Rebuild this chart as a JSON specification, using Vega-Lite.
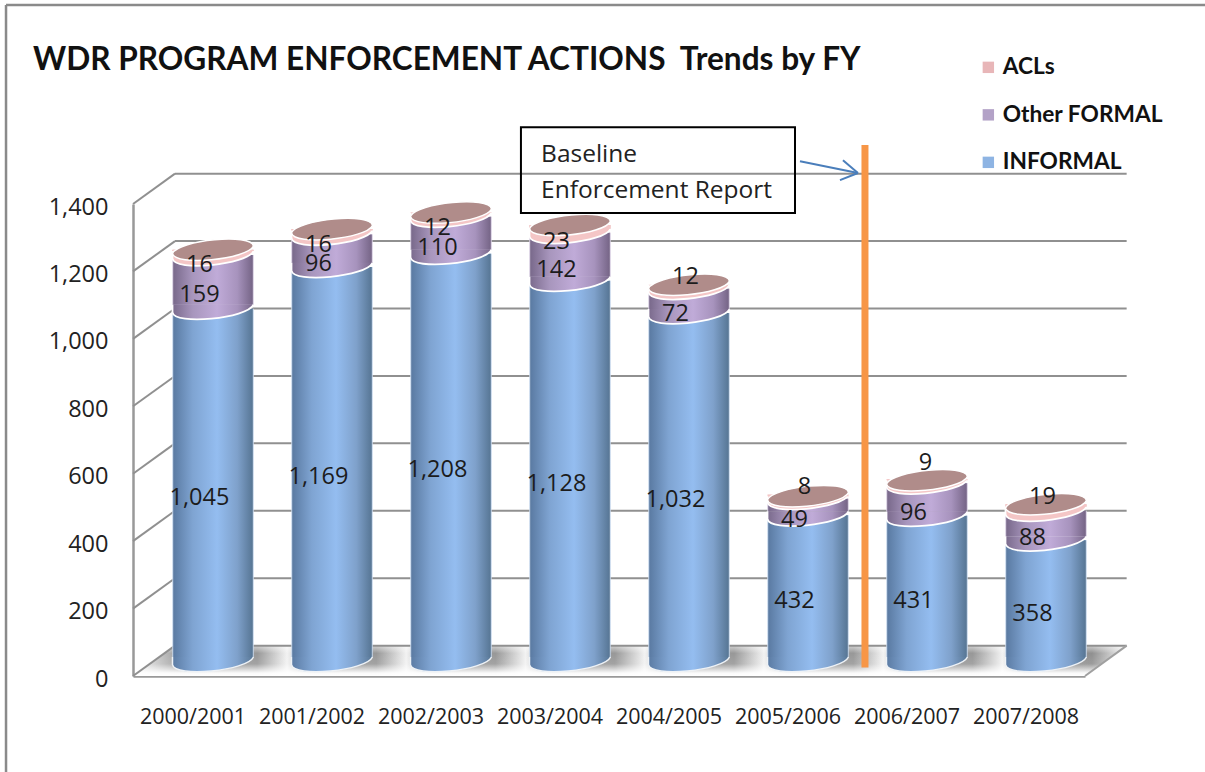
{
"$schema":"https://vega.github.io/schema/vega-lite/v6.json",
"width":952,"height":472,
"autosize":{"type":"none"},
"padding":{"left":133,"top":204,"right":120,"bottom":96},
"background":"#ffffff",
"config":{"view":{"stroke":null},"font":"Open Sans"},
"title":{"text":"WDR PROGRAM ENFORCEMENT ACTIONS\u00a0\u00a0Trends by FY","anchor":"start","frame":"group","dx":-100,"offset":-73,"font":"Lato","fontWeight":"bold","fontSize":31.6,"color":"#111111"},
"datasets":{
"walls":[{"v":0,"b":90},{"v":200,"b":290},{"v":400,"b":490},{"v":600,"b":690},{"v":800,"b":890},{"v":1000,"b":1090},{"v":1200,"b":1290},{"v":1400,"b":1490}],
"floor":[{"fx":-0.5,"lo":0,"hi":0},{"fx":-0.147,"lo":0,"hi":90},{"fx":7.5,"lo":0,"hi":90},{"fx":7.85,"lo":90,"hi":90}],
"frame":[{"x1":-1.567,"x2":8.51,"y1":1990,"y2":1990},{"x1":-1.567,"x2":-1.567,"y1":1990,"y2":-285}],
"arrow":[{"x1":5.105,"x2":5.592,"y1":1527,"y2":1492},{"x1":5.466,"x2":5.592,"y1":1530,"y2":1492},{"x1":5.441,"x2":5.592,"y1":1471,"y2":1492}],
"note":[{"t":"Baseline","nx":2.929,"ny":1545},{"t":"Enforcement Report","nx":2.929,"ny":1438}]
},
"data":{"values":[
{"fy":"2000/2001","i":0,"series":"INFORMAL","o":1,"v":1045},{"fy":"2000/2001","i":0,"series":"Other FORMAL","o":2,"v":159},{"fy":"2000/2001","i":0,"series":"ACLs","o":3,"v":16},
{"fy":"2001/2002","i":1,"series":"INFORMAL","o":1,"v":1169},{"fy":"2001/2002","i":1,"series":"Other FORMAL","o":2,"v":96},{"fy":"2001/2002","i":1,"series":"ACLs","o":3,"v":16},
{"fy":"2002/2003","i":2,"series":"INFORMAL","o":1,"v":1208},{"fy":"2002/2003","i":2,"series":"Other FORMAL","o":2,"v":110},{"fy":"2002/2003","i":2,"series":"ACLs","o":3,"v":12},
{"fy":"2003/2004","i":3,"series":"INFORMAL","o":1,"v":1128},{"fy":"2003/2004","i":3,"series":"Other FORMAL","o":2,"v":142},{"fy":"2003/2004","i":3,"series":"ACLs","o":3,"v":23},
{"fy":"2004/2005","i":4,"series":"INFORMAL","o":1,"v":1032},{"fy":"2004/2005","i":4,"series":"Other FORMAL","o":2,"v":72},{"fy":"2004/2005","i":4,"series":"ACLs","o":3,"v":12},
{"fy":"2005/2006","i":5,"series":"INFORMAL","o":1,"v":432},{"fy":"2005/2006","i":5,"series":"Other FORMAL","o":2,"v":49},{"fy":"2005/2006","i":5,"series":"ACLs","o":3,"v":8},
{"fy":"2006/2007","i":6,"series":"INFORMAL","o":1,"v":431},{"fy":"2006/2007","i":6,"series":"Other FORMAL","o":2,"v":96},{"fy":"2006/2007","i":6,"series":"ACLs","o":3,"v":9},
{"fy":"2007/2008","i":7,"series":"INFORMAL","o":1,"v":358},{"fy":"2007/2008","i":7,"series":"Other FORMAL","o":2,"v":88},{"fy":"2007/2008","i":7,"series":"ACLs","o":3,"v":19}
]},
"transform":[{"stack":"v","groupby":["fy"],"sort":[{"field":"o","order":"ascending"}],"as":["s0","s1"]},{"calculate":"(datum.s0+datum.s1)/2","as":"mid"}],
"layer":[
{"data":{"name":"frame"},"mark":{"type":"rule","color":"#8a8a8a","strokeWidth":2.5,"clip":false},
 "encoding":{"x":{"field":"x1","type":"quantitative","scale":{"domain":[-0.5,7.5],"nice":false,"zero":false,"padding":0},
   "axis":{"values":[0,1,2,3,4,5,6,7],"labelExpr":"['2000/2001','2001/2002','2002/2003','2003/2004','2004/2005','2005/2006','2006/2007','2007/2008'][datum.value]","title":null,"grid":false,"ticks":false,"domainColor":"#999999","domainWidth":2.5,"labelFont":"Open Sans","labelFontSize":21.5,"labelColor":"#222222","labelPadding":30,"labelFlush":false,"labelOverlap":false}},
  "x2":{"field":"x2"},
  "y":{"field":"y1","type":"quantitative","scale":{"domain":[0,1400],"nice":false},
   "axis":{"values":[0,200,400,600,800,1000,1200,1400],"format":",d","title":null,"grid":false,"ticks":false,"domainColor":"#999999","domainWidth":2.5,"labelFont":"Open Sans","labelFontSize":23.5,"labelColor":"#222222","labelPadding":25,"labelOffset":3}},
  "y2":{"field":"y2"}}},
{"data":{"name":"floor"},"mark":{"type":"area","clip":false,"fill":{"gradient":"linear","x1":0,"x2":1,"y1":0,"y2":0,"stops":[{"offset":0,"color":"#f8f8f8"},{"offset":0.045,"color":"#a0a0a0"},{"offset":0.125,"color":"#989898"},{"offset":0.155,"color":"#f2f2f2"},{"offset":0.18,"color":"#a0a0a0"},{"offset":0.245,"color":"#989898"},{"offset":0.275,"color":"#f2f2f2"},{"offset":0.3,"color":"#a0a0a0"},{"offset":0.365,"color":"#989898"},{"offset":0.395,"color":"#f2f2f2"},{"offset":0.42,"color":"#a0a0a0"},{"offset":0.485,"color":"#989898"},{"offset":0.515,"color":"#f2f2f2"},{"offset":0.54,"color":"#a0a0a0"},{"offset":0.605,"color":"#989898"},{"offset":0.635,"color":"#f2f2f2"},{"offset":0.66,"color":"#a0a0a0"},{"offset":0.725,"color":"#989898"},{"offset":0.755,"color":"#f2f2f2"},{"offset":0.78,"color":"#a0a0a0"},{"offset":0.845,"color":"#989898"},{"offset":0.875,"color":"#f2f2f2"},{"offset":0.9,"color":"#a0a0a0"},{"offset":0.965,"color":"#909090"},{"offset":1,"color":"#f8f8f8"}]}},
 "encoding":{"x":{"field":"fx","type":"quantitative"},"y":{"field":"lo","type":"quantitative"},"y2":{"field":"hi"}}},
{"data":{"name":"floor"},"mark":{"type":"area","clip":false,"fill":{"gradient":"linear","x1":0,"x2":0,"y1":0,"y2":1,"stops":[{"offset":0,"color":"rgba(255,255,255,0.55)"},{"offset":0.25,"color":"rgba(255,255,255,0)"},{"offset":0.6,"color":"rgba(255,255,255,0.1)"},{"offset":0.9,"color":"rgba(255,255,255,0.95)"},{"offset":1,"color":"rgba(255,255,255,1)"}]}},
 "encoding":{"x":{"field":"fx","type":"quantitative"},"y":{"field":"lo","type":"quantitative"},"y2":{"field":"hi"}}},
{"data":{"name":"walls"},"mark":{"type":"rule","color":"#909090","strokeWidth":2,"clip":false},
 "transform":[{"calculate":"-0.147","as":"wx"},{"calculate":"7.85","as":"ex"}],
 "encoding":{"x":{"field":"wx","type":"quantitative"},"x2":{"field":"ex"},"y":{"field":"b","type":"quantitative"}}},
{"data":{"name":"walls"},"mark":{"type":"rule","color":"#909090","strokeWidth":2,"clip":false},
 "transform":[{"calculate":"-0.5","as":"wx"},{"calculate":"-0.147","as":"ex"}],
 "encoding":{"x":{"field":"wx","type":"quantitative"},"x2":{"field":"ex"},"y":{"field":"v","type":"quantitative"},"y2":{"field":"b"}}},
{"data":{"values":[{"a":7.5,"c":7.85,"p":0,"q":90}]},"mark":{"type":"rule","color":"#a0a0a0","strokeWidth":2,"clip":false},
 "encoding":{"x":{"field":"a","type":"quantitative"},"x2":{"field":"c"},"y":{"field":"p","type":"quantitative"},"y2":{"field":"q"}}},
{"mark":{"type":"bar","width":81,"xOffset":20.5,"yOffset":-15,"y2Offset":-19,"clip":false},
 "encoding":{"x":{"field":"i","type":"quantitative"},"y":{"field":"s1","type":"quantitative"},"y2":{"field":"s0"},
  "color":{"field":"series","type":"nominal","scale":{"domain":["ACLs","Other FORMAL","INFORMAL"],"range":["#e8b6b8","#b3a2c7","#8eb4e3"]},
   "sort":["ACLs","Other FORMAL","INFORMAL"],
   "legend":{"orient":"none","legendX":844,"legendY":-148,"title":null,"symbolType":"square","symbolSize":130,"symbolOpacity":1,"symbolStrokeWidth":0,"labelFont":"Lato","labelFontWeight":"bold","labelFontSize":22.7,"labelColor":"#111111","labelOffset":3,"labelLimit":400,"rowPadding":23.5}}}},
{"transform":[{"filter":"datum.series==='INFORMAL'"}],"mark":{"type":"bar","width":81,"xOffset":20.5,"yOffset":-15,"y2Offset":-19,"clip":false,"fill":{"gradient":"linear","x1":0,"x2":1,"y1":0,"y2":0,"stops":[{"offset":0,"color":"#dfe6ee"},{"offset":0.015,"color":"#5b7ba3"},{"offset":0.25,"color":"#7fa4d2"},{"offset":0.55,"color":"#94bdf0"},{"offset":0.8,"color":"#7fa1cb"},{"offset":0.985,"color":"#587796"},{"offset":1,"color":"#dfe6ee"}]}},
 "encoding":{"x":{"field":"i","type":"quantitative"},"y":{"field":"s1","type":"quantitative"},"y2":{"field":"s0"}}},
{"transform":[{"filter":"datum.series==='INFORMAL'"}],"mark":{"type":"point","filled":true,"size":6561,"shape":"M-1,-0.1 L-1,0.09 C-0.95,0.42 0.85,0.24 1,-0.1","xOffset":20.5,"yOffset":-15,"opacity":1,"clip":false,"stroke":"#eef2f6","strokeWidth":1.5,"strokeOpacity":1,"fill":{"gradient":"linear","x1":0,"x2":1,"y1":0,"y2":0,"stops":[{"offset":0,"color":"#5b7ba3"},{"offset":0.25,"color":"#7fa4d2"},{"offset":0.55,"color":"#94bdf0"},{"offset":0.8,"color":"#7fa1cb"},{"offset":1,"color":"#587796"}]}},
 "encoding":{"x":{"field":"i","type":"quantitative"},"y":{"field":"s0","type":"quantitative"}}},
{"transform":[{"filter":"datum.series==='Other FORMAL'"}],"mark":{"type":"bar","width":81,"xOffset":20.5,"yOffset":-15,"y2Offset":-19,"clip":false,"fill":{"gradient":"linear","x1":0,"x2":1,"y1":0,"y2":0,"stops":[{"offset":0,"color":"#e6e0ec"},{"offset":0.015,"color":"#7a6a8c"},{"offset":0.25,"color":"#a896bd"},{"offset":0.55,"color":"#c0abd8"},{"offset":0.8,"color":"#a793bd"},{"offset":0.985,"color":"#776688"},{"offset":1,"color":"#e6e0ec"}]}},
 "encoding":{"x":{"field":"i","type":"quantitative"},"y":{"field":"s1","type":"quantitative"},"y2":{"field":"s0"}}},
{"transform":[{"filter":"datum.series==='Other FORMAL'"}],"mark":{"type":"point","filled":true,"size":6561,"shape":"M-1,-0.1 L-1,0.09 C-0.95,0.42 0.85,0.24 1,-0.1","xOffset":20.5,"yOffset":-15,"opacity":1,"clip":false,"stroke":"#ffffff","strokeWidth":1.8,"strokeOpacity":1,"fill":{"gradient":"linear","x1":0,"x2":1,"y1":0,"y2":0,"stops":[{"offset":0,"color":"#7a6a8c"},{"offset":0.25,"color":"#a896bd"},{"offset":0.55,"color":"#c0abd8"},{"offset":0.8,"color":"#a793bd"},{"offset":1,"color":"#776688"}]}},
 "encoding":{"x":{"field":"i","type":"quantitative"},"y":{"field":"s0","type":"quantitative"}}},
{"transform":[{"filter":"datum.series==='ACLs'"}],"mark":{"type":"point","filled":true,"size":6561,"shape":"M-1,-0.1 L-1,0.09 C-0.95,0.42 0.85,0.24 1,-0.1","xOffset":20.5,"yOffset":-15,"opacity":1,"clip":false,"stroke":"#ffffff","strokeWidth":1.8,"strokeOpacity":1,"fill":"#f4c6c6"},
 "encoding":{"x":{"field":"i","type":"quantitative"},"y":{"field":"s0","type":"quantitative"}}},
{"transform":[{"filter":"datum.series==='ACLs'"}],"mark":{"type":"bar","width":81,"xOffset":20.5,"yOffset":-15,"y2Offset":-19,"clip":false,"fill":"#f4c6c6"},
 "encoding":{"x":{"field":"i","type":"quantitative"},"y":{"field":"s1","type":"quantitative"},"y2":{"field":"s0"}}},
{"transform":[{"filter":"datum.series==='ACLs'"}],"mark":{"type":"point","filled":true,"size":6561,"shape":"M-1,0.09 C-0.95,0.42 0.85,0.24 1,-0.09 C0.95,-0.42 -0.85,-0.24 -1,0.09 Z","xOffset":20.5,"yOffset":-15,"opacity":1,"clip":false,"stroke":"#ffffff","strokeWidth":1.5,"strokeOpacity":1,"fill":"#b08c8a"},
 "encoding":{"x":{"field":"i","type":"quantitative"},"y":{"field":"s1","type":"quantitative"}}},
{"data":{"values":[{"ox":5.651,"oy":25,"oz":1575}]},"mark":{"type":"rule","color":"#f79646","strokeWidth":7,"clip":false},
 "encoding":{"x":{"field":"ox","type":"quantitative"},"y":{"field":"oy","type":"quantitative"},"y2":{"field":"oz"}}},
{"data":{"values":[{"bx":2.76,"bx2":5.063,"by":1373,"by2":1628}]},"mark":{"type":"rect","fillOpacity":0,"stroke":"#000000","strokeWidth":2,"clip":false},
 "encoding":{"x":{"field":"bx","type":"quantitative"},"x2":{"field":"bx2"},"y":{"field":"by","type":"quantitative"},"y2":{"field":"by2"}}},
{"data":{"name":"note"},"mark":{"type":"text","align":"left","baseline":"middle","font":"Open Sans","fontSize":24.5,"color":"#222222","clip":false},
 "encoding":{"x":{"field":"nx","type":"quantitative"},"y":{"field":"ny","type":"quantitative"},"text":{"field":"t"}}},
{"data":{"name":"arrow"},"mark":{"type":"rule","color":"#4a7ebb","strokeWidth":2,"clip":false},
 "encoding":{"x":{"field":"x1","type":"quantitative"},"x2":{"field":"x2"},"y":{"field":"y1","type":"quantitative"},"y2":{"field":"y2"}}},
{"transform":[{"filter":"datum.series!=='ACLs'"}],"mark":{"type":"text","font":"Open Sans","fontSize":23.5,"color":"#1c1c1c","dx":7,"yOffset":-2,"baseline":"middle","clip":false},
 "encoding":{"x":{"field":"i","type":"quantitative"},"y":{"field":"mid","type":"quantitative"},"text":{"field":"v","type":"quantitative","format":",d"}}},
{"transform":[{"filter":"datum.series==='ACLs' && datum.i<4"}],"mark":{"type":"text","font":"Open Sans","fontSize":23.5,"color":"#1c1c1c","dx":7,"yOffset":-2,"baseline":"middle","clip":false},
 "encoding":{"x":{"field":"i","type":"quantitative"},"y":{"field":"mid","type":"quantitative"},"text":{"field":"v","type":"quantitative","format":",d"}}},
{"transform":[{"filter":"datum.series==='ACLs' && datum.i>=4 && datum.i!==6"}],"mark":{"type":"text","font":"Open Sans","fontSize":23.5,"color":"#1c1c1c","dx":17,"yOffset":-25,"baseline":"middle","clip":false},
 "encoding":{"x":{"field":"i","type":"quantitative"},"y":{"field":"mid","type":"quantitative"},"text":{"field":"v","type":"quantitative","format":",d"}}},
{"transform":[{"filter":"datum.series==='ACLs' && datum.i===6"}],"mark":{"type":"text","font":"Open Sans","fontSize":23.5,"color":"#1c1c1c","dx":19,"yOffset":-34,"baseline":"middle","clip":false},
 "encoding":{"x":{"field":"i","type":"quantitative"},"y":{"field":"mid","type":"quantitative"},"text":{"field":"v","type":"quantitative","format":",d"}}}
]
}
